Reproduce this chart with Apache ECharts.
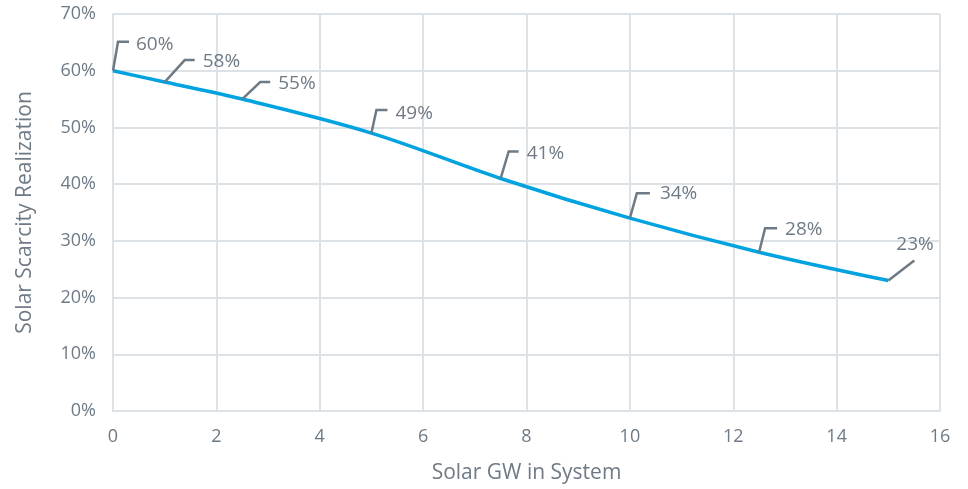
<!DOCTYPE html>
<html>
<head>
<meta charset="utf-8">
<script src="https://cdn.jsdelivr.net/npm/echarts@6/dist/echarts.min.js"></script>
<style>
  html, body { margin: 0; padding: 0; background: #ffffff; }
  #chart { width: 968px; height: 489px; }
</style>
</head>
<body>
<div id="chart"></div>
<script>
// Solar capacity (GW) and the matching scarcity realization (%)
const solarGW = [0, 1, 2.5, 5, 7.5, 10, 12.5, 15];
const realization = [60, 58, 55, 49, 41, 34, 28, 23];
const xTicks = [0, 2, 4, 6, 8, 10, 12, 14, 16];
const yTicks = [0, 10, 20, 30, 40, 50, 60, 70];

// Callout geometry (pixels from the point): bend of the leader, end of its
// horizontal run, and where the text sits.
const callouts = [
  { bend: [5, -29], end: 16, text: [23, -26] },
  { bend: [20, -22], end: 30, text: [38, -20] },
  { bend: [18, -17], end: 28, text: [36, -15] },
  { bend: [5, -23], end: 16, text: [24, -20] },
  { bend: [8, -27], end: 18, text: [26, -25] },
  { bend: [7, -25], end: 20, text: [30, -25] },
  { bend: [6, -24], end: 18, text: [26, -23] },
  { bend: [26, -20], end: 26, text: [8, -36] }
];

const FONT = '"Open Sans", Roboto, sans-serif';
const GREY_TEXT = '#6e7a85';
const GRID = '#dde2e6';

const chart = echarts.init(document.getElementById('chart'));

chart.setOption({
  animation: false,
  backgroundColor: '#ffffff',
  grid: {
    left: 113, right: 28, top: 14, bottom: 78,
    containLabel: false, outerBoundsMode: 'none'
  },
  xAxis: {
    type: 'value',
    min: xTicks[0],
    max: xTicks[xTicks.length - 1],
    interval: 2,
    name: 'Solar GW in System',
    nameLocation: 'middle',
    nameGap: 52,
    nameTextStyle: { color: GREY_TEXT, fontSize: 21, fontFamily: FONT },
    axisLine: { show: true, lineStyle: { color: GRID, width: 2 } },
    axisTick: { show: false },
    axisLabel: { color: GREY_TEXT, fontSize: 18, fontFamily: FONT, margin: 17 },
    splitLine: { show: true, lineStyle: { color: GRID, width: 2 } }
  },
  yAxis: {
    type: 'value',
    min: yTicks[0],
    max: yTicks[yTicks.length - 1],
    interval: 10,
    name: 'Solar Scarcity Realization',
    nameLocation: 'middle',
    nameGap: 77,
    nameTextStyle: { color: GREY_TEXT, fontSize: 21, fontFamily: FONT },
    axisLine: { show: true, lineStyle: { color: GRID, width: 2 } },
    axisTick: { show: false },
    axisLabel: {
      color: GREY_TEXT, fontSize: 18, fontFamily: FONT, margin: 17,
      formatter: v => v + '%'
    },
    splitLine: { show: true, lineStyle: { color: GRID, width: 2 } }
  },
  series: [
    {
      type: 'line',
      data: solarGW.map((x, i) => [x, realization[i]]),
      smooth: 0.35,
      symbol: 'none',
      lineStyle: { color: '#00a3e0', width: 3.5 },
      z: 3
    },
    {
      // Leader lines and value labels for each point
      type: 'custom',
      data: solarGW.map((x, i) => [x, realization[i], i]),
      z: 4,
      silent: true,
      renderItem: function (params, api) {
        const p = api.coord([api.value(0), api.value(1)]);
        const c = callouts[api.value(2)];
        const bx = p[0] + c.bend[0], by = p[1] + c.bend[1];
        return {
          type: 'group',
          children: [
            {
              type: 'polyline',
              shape: { points: [[p[0], p[1]], [bx, by], [p[0] + c.end, by]] },
              style: { stroke: '#6e7a85', lineWidth: 2.5, fill: null, lineJoin: 'miter' }
            },
            {
              type: 'text',
              x: p[0] + c.text[0],
              y: p[1] + c.text[1],
              style: {
                text: api.value(1) + '%',
                fill: GREY_TEXT,
                font: '19px ' + FONT,
                textAlign: 'left',
                textVerticalAlign: 'middle'
              }
            }
          ]
        };
      }
    }
  ]
});
</script>
</body>
</html>
